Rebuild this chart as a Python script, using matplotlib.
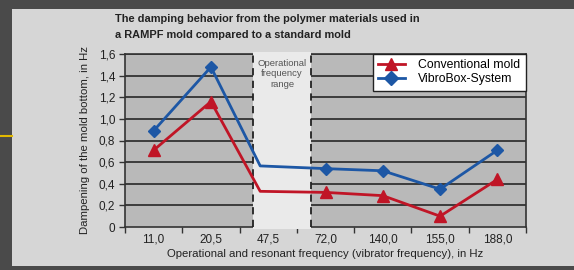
import matplotlib
matplotlib.use("Agg")
import matplotlib.pyplot as plt
from matplotlib.patches import Rectangle
from matplotlib.lines import Line2D

plt.rcParams['font.family'] = ['Liberation Sans', 'DejaVu Sans']

categories = ["11,0", "20,5", "47,5", "72,0", "140,0", "155,0", "188,0"]
x_pos = [0.5, 1.5, 2.36, 3.5, 4.5, 5.5, 6.5]
conventional = [0.71, 1.16, 0.33, 0.32, 0.29, 0.10, 0.44]
vibrobox = [0.89, 1.48, 0.565, 0.54, 0.52, 0.35, 0.71]
marker_mask = [True, True, False, True, True, True, True]
op_range = (2.24, 3.24)
yticks = [0, 0.2, 0.4, 0.6, 0.8, 1.0, 1.2, 1.4, 1.6]
ytick_labels = ["0", "0,2", "0,4", "0,6", "0,8", "1,0", "1,2", "1,4", "1,6"]

RED = "#c01526"
BLUE = "#1d57a5"

fig = plt.figure(figsize=(5.74, 2.70), dpi=100, facecolor="#4a4a4a")
bg = Rectangle((12/574, 1-266/270), 1-12/574, 257/270,
               transform=fig.transFigure, facecolor="#d6d6d6",
               edgecolor="none", zorder=-10)
fig.patches.append(bg)
fig.lines.append(Line2D([0, 12/574], [1-136/270, 1-136/270], transform=fig.transFigure,
                        color="#e2b900", lw=1.5, zorder=-9))

ax = fig.add_axes([125/574, 1-227/270, (526-125)/574, (227-54)/270])
ax.set_zorder(1)
ax.set_facecolor("#b9b9b9")
ax.set_xlim(0, 7)
ax.set_ylim(0, 1.6)

for y in yticks[1:]:
    ax.plot([0, 7], [y, y], color="#1a1a1a", lw=1.1, zorder=2, solid_capstyle="butt")

ax.add_patch(Rectangle((op_range[0], -0.02), op_range[1]-op_range[0], 1.64,
                       facecolor="#eaeaea", edgecolor="none", zorder=2.6, clip_on=False))
for xv in op_range:
    ax.plot([xv, xv], [0, 1.6], color="#222222", lw=1.3, ls=(0, (4, 3)), zorder=2.7)
ax.text(sum(op_range)/2, 1.55, "Operational\nfrequency\nrange", ha="center", va="top",
        fontsize=6.8, color="#555555", linespacing=1.15, zorder=2.8)

cx = [x for x, m in zip(x_pos, marker_mask) if m]
ax.plot(x_pos, conventional, color=RED, lw=2, zorder=3)
ax.plot(cx, [v for v, m in zip(conventional, marker_mask) if m], ls="none",
        marker="^", ms=8, color=RED, zorder=4)
ax.plot(x_pos, vibrobox, color=BLUE, lw=2, zorder=3)
ax.plot(cx, [v for v, m in zip(vibrobox, marker_mask) if m], ls="none",
        marker="D", ms=6.5, color=BLUE, zorder=4)

for s in ["left", "bottom", "right", "top"]:
    ax.spines[s].set_color("#333333")
    ax.spines[s].set_linewidth(1.2)

ax.set_yticks(yticks)
ax.set_yticklabels(ytick_labels, fontsize=8.5, color="#222222")
ax.set_xticks(range(8))
ax.set_xticklabels([])
ax.set_xticks([i + 0.5 for i in range(7)], minor=True)
ax.set_xticklabels(categories, minor=True, fontsize=8.5, color="#222222")
ax.tick_params(axis="x", which="minor", length=0, pad=5)
ax.tick_params(axis="x", which="major", length=4, width=1, color="#333333")
ax.tick_params(axis="y", length=4, width=1, color="#333333", pad=3)

ax.set_ylabel("Dampening of the mold bottom, in Hz", fontsize=8.2, color="#222222", labelpad=6)
ax.set_xlabel("Operational and resonant frequency (vibrator frequency), in Hz",
              fontsize=8.2, color="#222222", labelpad=2)

handles = [Line2D([], [], color=RED, lw=2, marker="^", ms=8.5),
           Line2D([], [], color=BLUE, lw=2, marker="D", ms=7)]
leg = ax.legend(handles, ["Conventional mold", "VibroBox-System"], loc="upper right",
                bbox_to_anchor=(1.0, 1.0), fontsize=8.8, frameon=True, fancybox=False,
                framealpha=1, edgecolor="#222222", borderpad=0.45, handlelength=2.2,
                labelspacing=0.15, borderaxespad=0, handletextpad=1.1)
leg.get_frame().set_linewidth(1.0)
leg.set_zorder(5)

fig.text(115/574, 1-14/270, "The damping behavior from the polymer materials used in\na RAMPF mold compared to a standard mold",
         ha="left", va="top", fontsize=7.9, fontweight="bold", color="#222222", linespacing=1.75)

fig.savefig("out.png", dpi=100, facecolor=fig.get_facecolor())
